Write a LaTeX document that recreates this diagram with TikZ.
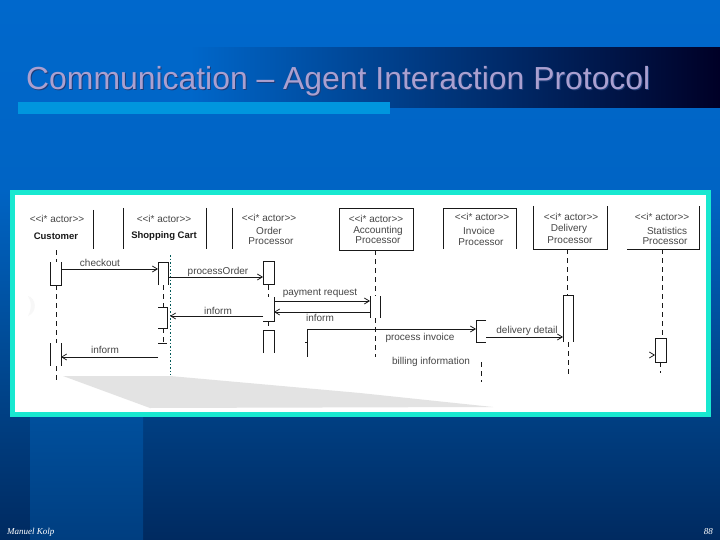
\documentclass[tikz,border=0pt]{standalone}
\usepackage{fontspec}
\setmainfont{Liberation Sans}
\newfontfamily\serifit{Liberation Serif}
\definecolor{bgtop}{RGB}{0,104,204}
\definecolor{bgup}{RGB}{0,100,196}
\definecolor{bgband}{RGB}{0,103,202}
\definecolor{bgmid}{RGB}{0,76,152}
\definecolor{bgbot}{RGB}{0,42,96}
\definecolor{bandtop}{RGB}{0,96,184}
\definecolor{bandbot}{RGB}{0,62,128}
\definecolor{barblue}{RGB}{0,150,222}
\definecolor{titlec}{RGB}{170,160,208}
\definecolor{shadowc}{RGB}{30,60,120}
\definecolor{tealc}{RGB}{24,232,208}
\definecolor{inkc}{RGB}{25,25,25}
\definecolor{labelc}{RGB}{70,70,70}
\newcommand{\actorlbl}{<{}<i* actor>{}>}
\tikzset{
 lbl/.style={font=\fontsize{10}{10}\selectfont,text=labelc,inner sep=0pt,anchor=center},
 blbl/.style={font=\fontsize{9.5}{10}\selectfont\bfseries,text=inkc,inner sep=0pt,anchor=center},
 ln/.style={draw=inkc,line width=0.75pt},
 life/.style={draw=inkc,line width=0.75pt,dash pattern=on 5pt off 4pt},
 msg/.style={draw=inkc,line width=0.75pt,-{Straight Barb[length=5pt,width=6pt]}},
}
\usetikzlibrary{arrows.meta}
\begin{document}
\begin{tikzpicture}[x=1pt,y=-1pt]
\useasboundingbox (0,0) rectangle (720,540);
% background
\shade[top color=bgtop,bottom color=bgup] (0,0) rectangle (720,190);
\shade[top color=bgup,bottom color=bgmid] (0,190) rectangle (720,340);
\shade[top color=bgmid,bottom color=bgbot] (0,340) rectangle (720,540);
\shade[top color=bandtop,bottom color=bandbot] (30,300) rectangle (143,540);
% title band
\shade[left color=bgband,right color=black!85!blue] (190,48) rectangle (720,108);
\fill[barblue] (18,102) rectangle (390,114);
\node[anchor=base west,inner sep=0pt,text=shadowc,font=\fontsize{31.9}{33}\selectfont] at (27,91) {Communication – Agent Interaction Protocol};
\node[anchor=base west,inner sep=0pt,text=titlec,font=\fontsize{31.9}{33}\selectfont] (title) at (26,90) {Communication – Agent Interaction Protocol};
% panel
\fill[tealc] (10,190) rectangle (711,417);
\fill[white] (15,195) rectangle (706,412);
\fill[black!3] (28,296) .. controls (36,298) and (38,312) .. (28,316) .. controls (32,308) and (32,302) .. (28,296);
\fill[black!11] (63,376) -- (170,376) -- (360,393) -- (493,407) -- (150,408) -- cycle;
% headers
\node[lbl] (h1) at (57,219) {\actorlbl};
\node[blbl] (h1b) at (56,236) {Customer};
\draw[ln] (93,210) -- (93,249);
\node[lbl] (h2) at (164,219) {\actorlbl};
\node[blbl] (h2b) at (164,236) {Shopping Cart};
\draw[ln] (123,208) -- (123,249) (206,208) -- (206,249);
\node[lbl] (h3) at (269,218) {\actorlbl};
\node[lbl] (h3b) at (269,231) {Order};
\node[lbl] (h3c) at (271,241) {Processor};
\draw[ln] (232,208) -- (232,249);
\draw[ln] (339,208) rectangle (413,250);
\node[lbl] (h4) at (376,219) {\actorlbl};
\node[lbl] (h4b) at (378,231) {Accounting};
\node[lbl] (h4c) at (378,240) {Processor};
\draw[ln] (443,249) -- (443,208) -- (516,208) -- (516,249);
\node[lbl] (h5) at (482,217) {\actorlbl};
\node[lbl] (h5b) at (479,231) {Invoice};
\node[lbl] (h5c) at (481,242) {Processor};
\draw[ln] (533,206) -- (533,249) -- (607,249) -- (607,206);
\node[lbl] (h6) at (571,217) {\actorlbl};
\node[lbl] (h6b) at (569,229) {Delivery};
\node[lbl] (h6c) at (570,240) {Processor};
\draw[ln] (627,249) -- (699,249) -- (699,206);
\node[lbl] (h7) at (662,217) {\actorlbl};
\node[lbl] (h7b) at (667,231) {Statistics};
\node[lbl] (h7c) at (665,241) {Processor};
% anchors for messages
\coordinate (cuA) at (61,269);
\coordinate (caA) at (158,269);
\coordinate (caB) at (168,277);
\coordinate (orA) at (263,277);
\coordinate (orB) at (274,301);
\coordinate (acA) at (370,301);
\coordinate (acB) at (370,312);
\coordinate (orC) at (274,312);
\coordinate (orD) at (263,316);
\coordinate (caC) at (170,316);
\coordinate (caD) at (158,357);
\coordinate (cuB) at (61,357);
\coordinate (orE) at (307,329);
\coordinate (inA) at (476,329);
\coordinate (inB) at (486,337);
\coordinate (deA) at (563,337);
\coordinate (stB) at (649,355);
\coordinate (stA) at (655,355);
% customer lifeline
\draw[life] (56,250) -- (56,262);
\draw[ln] (50,262) -- (50,285) -- (61,285) -- (61,262);
\draw[life,line width=1pt] (56,285) -- (56,343);
\draw[ln] (50,343) -- (50,366) (61,343) -- (61,366);
\draw[life] (56,366) -- (56,383);
% cart lifeline
\draw[ln] (158,285) -- (158,262) -- (168,262) -- (168,285);
\draw[life] (163,285) -- (163,307);
\draw[ln] (158,307) -- (167,307) -- (167,328) -- (158,328);
\draw[life] (163,328) -- (163,343);
\draw[ln] (158,343) -- (167,343);
\draw[draw=teal!70!black,line width=0.7pt,dash pattern=on 1.5pt off 2pt] (170,255) -- (170,375);
% order lifeline
\draw[ln] (263,261) rectangle (274,284);
\draw[life] (268,285) -- (268,297);
\draw[ln] (274,297) -- (274,321) -- (263,321);
\draw[life] (268,321) -- (268,330);
\draw[ln] (263,353) -- (263,330) -- (274,330) -- (274,353);
\draw[ln] (307,329) -- (307,357) (305,342) -- (307,342);
% accounting
\draw[life] (375,250) -- (375,296);
\draw[ln] (370,296) -- (370,318) (380,296) -- (380,318);
\draw[life] (375,318) -- (375,357);
% invoice
\draw[ln] (486,320) -- (476,320) -- (476,342) -- (486,342);
\draw[life] (481,362) -- (481,382);
% delivery
\draw[life] (567,249) -- (567,295);
\draw[ln] (563,342) -- (563,295) -- (573,295) -- (573,342);
\draw[life] (568,342) -- (568,375);
% statistics
\draw[life] (662,249) -- (662,338);
\draw[ln] (655,338) rectangle (666,362);
\draw[life] (660,362) -- (660,373);
% messages
\draw[msg] (cuA) -- (caA);
\draw[msg] (caB) -- (orA);
\draw[msg] (orB) -- (acA);
\draw[msg] (acB) -- (orC);
\draw[msg] (orD) -- (caC);
\draw[msg] (caD) -- (cuB);
\draw[msg] (orE) -- (inA);
\draw[msg] (inB) -- (deA);
\draw[-{Straight Barb[length=5pt,width=6pt]},draw=inkc,line width=0.75pt,dash pattern=on 0pt off 20pt] (stB) -- (stA);
% message labels
\node[lbl] (m1) at (100,263) {checkout};
\node[lbl] (m2) at (218,272) {processOrder};
\node[lbl] (m3) at (320,293) {payment request};
\node[lbl] (m4) at (320,318) {inform};
\node[lbl] (m5) at (218,311) {inform};
\node[lbl] (m6) at (105,350) {inform};
\node[lbl] (m7) at (420,338) {process invoice};
\node[lbl] (m8) at (527,331) {delivery detail};
\node[lbl] (m9) at (431,362) {billing information};
% footer
\node[anchor=base west,inner sep=0pt,text=white,font=\fontsize{9}{9}\selectfont\serifit\itshape] (f1) at (7,534) {Manuel Kolp};
\node[anchor=base east,inner sep=0pt,text=white,font=\fontsize{9}{9}\selectfont\serifit\itshape] (f2) at (713,534) {88};
\end{tikzpicture}
\end{document}
